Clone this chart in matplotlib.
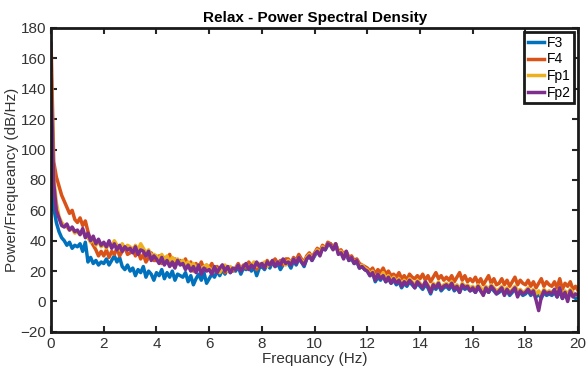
import numpy as np
import matplotlib.pyplot as plt

freq = np.arange(0, 201) * 0.1

f3 = [85, 62, 52, 46, 42, 40, 37, 39, 35, 37,
      36, 38, 33, 39, 26, 29, 25, 27, 24, 26,
      25, 28, 24, 27, 30, 26, 29, 23, 21, 24,
      20, 22, 17, 21, 19, 23, 16, 20, 18, 14,
      19, 17, 21, 15, 19, 16, 20, 14, 18, 17,
      16, 19, 13, 17, 11, 15, 18, 14, 19, 12,
      15, 18, 16, 20, 17, 21, 18, 22, 19, 21,
      20, 23, 18, 22, 21, 24, 20, 23, 17, 22,
      23, 21, 25, 22, 26, 23, 25, 21, 24, 26,
      25, 22, 27, 24, 28, 26, 23, 28, 30, 27,
      30, 33, 31, 36, 34, 37, 38, 35, 37, 32,
      33, 29, 31, 27, 28, 25, 26, 22, 23, 21,
      20, 17, 19, 13, 16, 14, 17, 13, 15, 12,
      14, 11, 13, 9, 12, 10, 13, 11, 9, 12,
      10, 8, 11, 9, 5, 10, 8, 11, 7, 9,
      10, 8, 11, 7, 9, 6, 10, 8, 9, 7,
      8, 6, 9, 7, 5, 8, 6, 9, 7, 5,
      6, 8, 5, 7, 4, 6, 8, 5, 6, 4,
      5, 7, 4, 6, 3, 5, 2, 6, 4, 5,
      4, 6, 3, 7, 2, 5, 3, 6, 4, 2,
      3]

f4 = [170, 92, 82, 76, 70, 66, 62, 58, 60, 54,
      52, 55, 50, 53, 46, 40, 37, 34, 30, 33,
      30, 34, 29, 33, 31, 35, 30, 33, 36, 31,
      32, 35, 30, 33, 28, 31, 26, 29, 32, 27,
      27, 30, 25, 29, 26, 31, 24, 28, 25, 27,
      25, 28, 23, 26, 20, 25, 22, 26, 21, 24,
      22, 25, 20, 23, 21, 24, 19, 23, 22, 20,
      22, 25, 21, 24, 22, 26, 23, 25, 21, 24,
      25, 23, 27, 24, 26, 28, 25, 27, 24, 28,
      28, 25, 29, 27, 31, 28, 26, 30, 32, 29,
      32, 35, 33, 37, 35, 39, 38, 36, 38, 33,
      34, 31, 33, 29, 30, 27, 28, 25, 24, 23,
      22, 20, 22, 18, 21, 19, 22, 18, 20, 17,
      18, 16, 19, 15, 17, 14, 18, 16, 15, 17,
      15, 18, 14, 17, 13, 16, 19, 15, 17, 14,
      16, 14, 17, 13, 16, 19, 14, 17, 13, 15,
      13, 16, 12, 15, 11, 14, 17, 12, 15, 11,
      12, 15, 11, 14, 10, 13, 16, 11, 14, 12,
      11, 14, 10, 13, 9, 12, 15, 10, 13, 11,
      10, 13, 9, 15, 8, 12, 10, 13, 8, 10,
      7]

fp1 = [150, 82, 65, 56, 52, 50, 49, 47, 48, 45,
       46, 44, 47, 43, 42, 39, 41, 37, 40, 36,
       38, 35, 39, 36, 40, 37, 34, 38, 35, 37,
       36, 33, 37, 34, 38, 35, 32, 34, 30, 31,
       30, 28, 31, 27, 30, 26, 29, 27, 28, 25,
       27, 24, 26, 23, 25, 22, 24, 21, 23, 24,
       22, 20, 23, 21, 19, 22, 24, 20, 23, 21,
       22, 24, 21, 23, 25, 22, 24, 26, 23, 25,
       24, 26, 23, 25, 27, 24, 26, 25, 27, 24,
       27, 25, 28, 26, 29, 27, 25, 29, 31, 28,
       31, 34, 32, 36, 35, 38, 37, 35, 38, 32,
       33, 30, 32, 28, 29, 26, 27, 23, 24, 22,
       21, 18, 20, 15, 18, 16, 19, 15, 17, 14,
       16, 13, 15, 11, 14, 12, 15, 13, 11, 14,
       12, 10, 13, 11, 7, 12, 10, 13, 9, 11,
       12, 10, 13, 9, 11, 8, 12, 10, 11, 9,
       10, 8, 11, 9, 7, 10, 8, 11, 9, 7,
       8, 10, 7, 9, 6, 8, 10, 7, 8, 6,
       7, 9, 6, 8, 5, 7, 4, 8, 6, 7,
       6, 8, 5, 9, 4, 7, 5, 8, 6, 4,
       5]

fp2 = [145, 78, 60, 55, 50, 49, 51, 47, 49, 46,
       47, 44, 48, 42, 45, 40, 43, 38, 41, 37,
       39, 36, 40, 35, 38, 34, 37, 33, 36, 34,
       35, 32, 36, 31, 34, 33, 30, 33, 27, 30,
       28, 25, 29, 24, 27, 23, 26, 22, 27, 24,
       25, 21, 24, 20, 23, 19, 24, 18, 22, 20,
       21, 18, 23, 19, 22, 24, 20, 23, 19, 22,
       21, 24, 20, 23, 25, 21, 24, 22, 26, 23,
       25, 22, 26, 24, 27, 23, 26, 24, 28, 25,
       26, 24, 28, 25, 29, 26, 24, 28, 30, 27,
       31, 33, 30, 35, 34, 38, 37, 34, 38, 31,
       32, 28, 33, 27, 29, 25, 27, 22, 23, 21,
       20, 17, 19, 14, 18, 15, 17, 13, 16, 12,
       15, 12, 14, 10, 13, 11, 14, 12, 9, 13,
       11, 9, 13, 10, 6, 11, 9, 12, 8, 10,
       11, 9, 12, 8, 10, 6, 11, 9, 10, 7,
       9, 6, 10, 7, 4, 9, 6, 10, 8, 5,
       7, 9, 4, 8, 5, 7, 9, 3, 7, 5,
       6, 8, 5, 7, 1, -6, 3, 7, 5, 6,
       5, 8, 3, 9, 2, 6, 0, 7, 3, 5,
       4]

labels = ['F3', 'F4', 'Fp1', 'Fp2']
colors = ['#0072BD', '#D95319', '#EDB120', '#7E2F8E']

plt.rcParams['font.family'] = ['Liberation Sans', 'DejaVu Sans']

fig = plt.figure(figsize=(5.87, 3.78), dpi=100)
ax = fig.add_axes([0.087, 0.122, 0.898, 0.804])

for y, lab, c in zip([f3, f4, fp1, fp2], labels, colors):
    ax.plot(freq, y, color=c, lw=2.5, label=lab)

ax.set_xlim(0, 20)
ax.set_ylim(-20, 180)
ax.set_xticks(np.arange(0, 21, 2))
ax.set_yticks(np.arange(-20, 181, 20))
ax.tick_params(direction='in', top=True, right=True, labelsize=11,
               length=4, width=1.5, colors='#262626', labelcolor='#333333')
for s in ax.spines.values():
    s.set_linewidth(2)
    s.set_color('#1a1a1a')

ax.set_title('Relax - Power Spectral Density', fontsize=11, fontweight='bold', pad=4)
ax.set_xlabel('Frequancy (Hz)', fontsize=11, color='#333333', labelpad=1)
ax.set_ylabel('Power/Frequeancy (dB/Hz)', fontsize=11, color='#333333', labelpad=1)

leg = ax.legend(loc='upper right', fontsize=10, handlelength=1.2, handletextpad=0.15,
                borderpad=0.25, labelspacing=0.2, fancybox=False, framealpha=1,
                borderaxespad=0.3)
leg.get_frame().set_edgecolor('#1a1a1a')
leg.get_frame().set_linewidth(2)

fig.savefig('out.png', dpi=100)
